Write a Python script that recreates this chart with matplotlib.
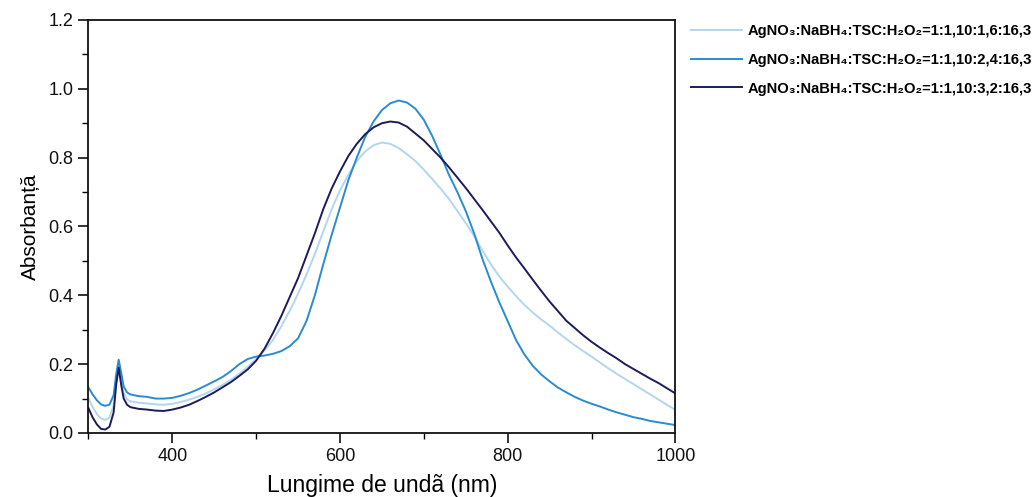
import matplotlib
matplotlib.use("Agg")
import matplotlib.pyplot as plt
from matplotlib.ticker import MultipleLocator, FormatStrFormatter

# Wavelength grid (nm)
wavelength = [300, 305, 310, 315, 320, 325, 330, 333, 336, 339, 342, 346, 350,
              360, 370, 380, 390, 400, 410, 420, 430, 440, 450, 460, 470, 480,
              490, 500, 510, 520, 530, 540, 550, 560, 570, 580, 590, 600, 610,
              620, 630, 640, 650, 660, 670, 680, 690, 700, 710, 720, 730, 740,
              750, 760, 770, 780, 790, 800, 810, 820, 830, 840, 850, 860, 870,
              880, 890, 900, 910, 920, 930, 940, 950, 960, 970, 980, 990, 1000]

# Absorbance, TSC ratio 1,6
abs_tsc_16 = [0.100, 0.075, 0.055, 0.042, 0.038, 0.045, 0.080, 0.150, 0.192, 0.150,
              0.115, 0.098, 0.092, 0.088, 0.086, 0.083, 0.082, 0.085, 0.090, 0.097,
              0.105, 0.115, 0.127, 0.140, 0.155, 0.172, 0.192, 0.215, 0.240, 0.270,
              0.310, 0.355, 0.405, 0.460, 0.520, 0.585, 0.650, 0.705, 0.750, 0.790,
              0.818, 0.836, 0.844, 0.840, 0.828, 0.810, 0.790, 0.765, 0.738, 0.710,
              0.680, 0.645, 0.610, 0.572, 0.530, 0.490, 0.455, 0.425, 0.398, 0.372,
              0.350, 0.330, 0.312, 0.292, 0.273, 0.255, 0.238, 0.222, 0.205, 0.188,
              0.172, 0.157, 0.142, 0.127, 0.112, 0.097, 0.082, 0.067]

# Absorbance, TSC ratio 2,4
abs_tsc_24 = [0.132, 0.112, 0.095, 0.083, 0.079, 0.082, 0.110, 0.170, 0.213, 0.175,
              0.135, 0.118, 0.112, 0.107, 0.105, 0.100, 0.100, 0.102, 0.108, 0.116,
              0.126, 0.138, 0.150, 0.163, 0.180, 0.200, 0.215, 0.222, 0.225, 0.230,
              0.238, 0.252, 0.275, 0.325, 0.400, 0.490, 0.575, 0.655, 0.735, 0.800,
              0.860, 0.905, 0.938, 0.958, 0.966, 0.960, 0.942, 0.910, 0.863, 0.808,
              0.750, 0.700, 0.645, 0.580, 0.505, 0.440, 0.380, 0.325, 0.270, 0.228,
              0.195, 0.170, 0.150, 0.132, 0.118, 0.105, 0.094, 0.085, 0.077, 0.068,
              0.060, 0.053, 0.046, 0.041, 0.035, 0.031, 0.027, 0.023]

# Absorbance, TSC ratio 3,2
abs_tsc_32 = [0.072, 0.045, 0.025, 0.012, 0.010, 0.018, 0.060, 0.140, 0.190, 0.140,
              0.100, 0.082, 0.075, 0.070, 0.068, 0.065, 0.064, 0.068, 0.074, 0.082,
              0.093, 0.105, 0.118, 0.133, 0.148, 0.166, 0.185, 0.210, 0.245, 0.290,
              0.340, 0.395, 0.450, 0.515, 0.580, 0.650, 0.710, 0.760, 0.805, 0.840,
              0.868, 0.888, 0.900, 0.905, 0.902, 0.890, 0.870, 0.850, 0.825, 0.800,
              0.772, 0.742, 0.712, 0.680, 0.648, 0.615, 0.582, 0.545, 0.510, 0.478,
              0.445, 0.413, 0.382, 0.354, 0.326, 0.305, 0.284, 0.265, 0.248, 0.232,
              0.217, 0.200, 0.186, 0.172, 0.158, 0.145, 0.130, 0.115]

labels = ["AgNO₃:NaBH₄:TSC:H₂O₂=1:1,10:1,6:16,3",
          "AgNO₃:NaBH₄:TSC:H₂O₂=1:1,10:2,4:16,3",
          "AgNO₃:NaBH₄:TSC:H₂O₂=1:1,10:3,2:16,3"]
colors = ["#b3d6ef", "#2a8bd0", "#1c1c5c"]

plt.rcParams['font.family'] = ['Liberation Sans', 'DejaVu Sans']

fig = plt.figure(figsize=(10.35, 4.97), dpi=100)
ax = fig.add_axes([0.0855, 0.1288, 0.567, 0.831])

for series, lab, col in zip([abs_tsc_16, abs_tsc_24, abs_tsc_32], labels, colors):
    ax.plot(wavelength, series, color=col, lw=1.4, label=lab)

ax.set_xlim(300, 1000)
ax.set_ylim(0.0, 1.2)
ax.xaxis.set_minor_locator(MultipleLocator(100))
ax.set_xticks([400, 600, 800, 1000])
ax.yaxis.set_major_locator(MultipleLocator(0.2))
ax.yaxis.set_minor_locator(MultipleLocator(0.1))
ax.yaxis.set_major_formatter(FormatStrFormatter('%.1f'))
ax.tick_params(which='major', direction='out', length=7, width=1.2,
               labelsize=13, colors='#111111', pad=4)
ax.tick_params(which='minor', direction='out', length=4, width=1.0)
for s in ['left', 'right', 'bottom', 'top']:
    ax.spines[s].set_linewidth(1.3)
    ax.spines[s].set_color('#111111')

ax.set_xlabel("Lungime de undã (nm)", fontsize=16.5, labelpad=6)
ax.set_ylabel("Absorbanță", fontsize=15, labelpad=6)

leg = ax.legend(loc='upper left', bbox_to_anchor=(1.004, 1.022), frameon=False,
                handlelength=3.45, handletextpad=0.41, labelspacing=1.0,
                prop={'size': 10.6, 'weight': 'bold'})

fig.savefig("out.png", dpi=100)
